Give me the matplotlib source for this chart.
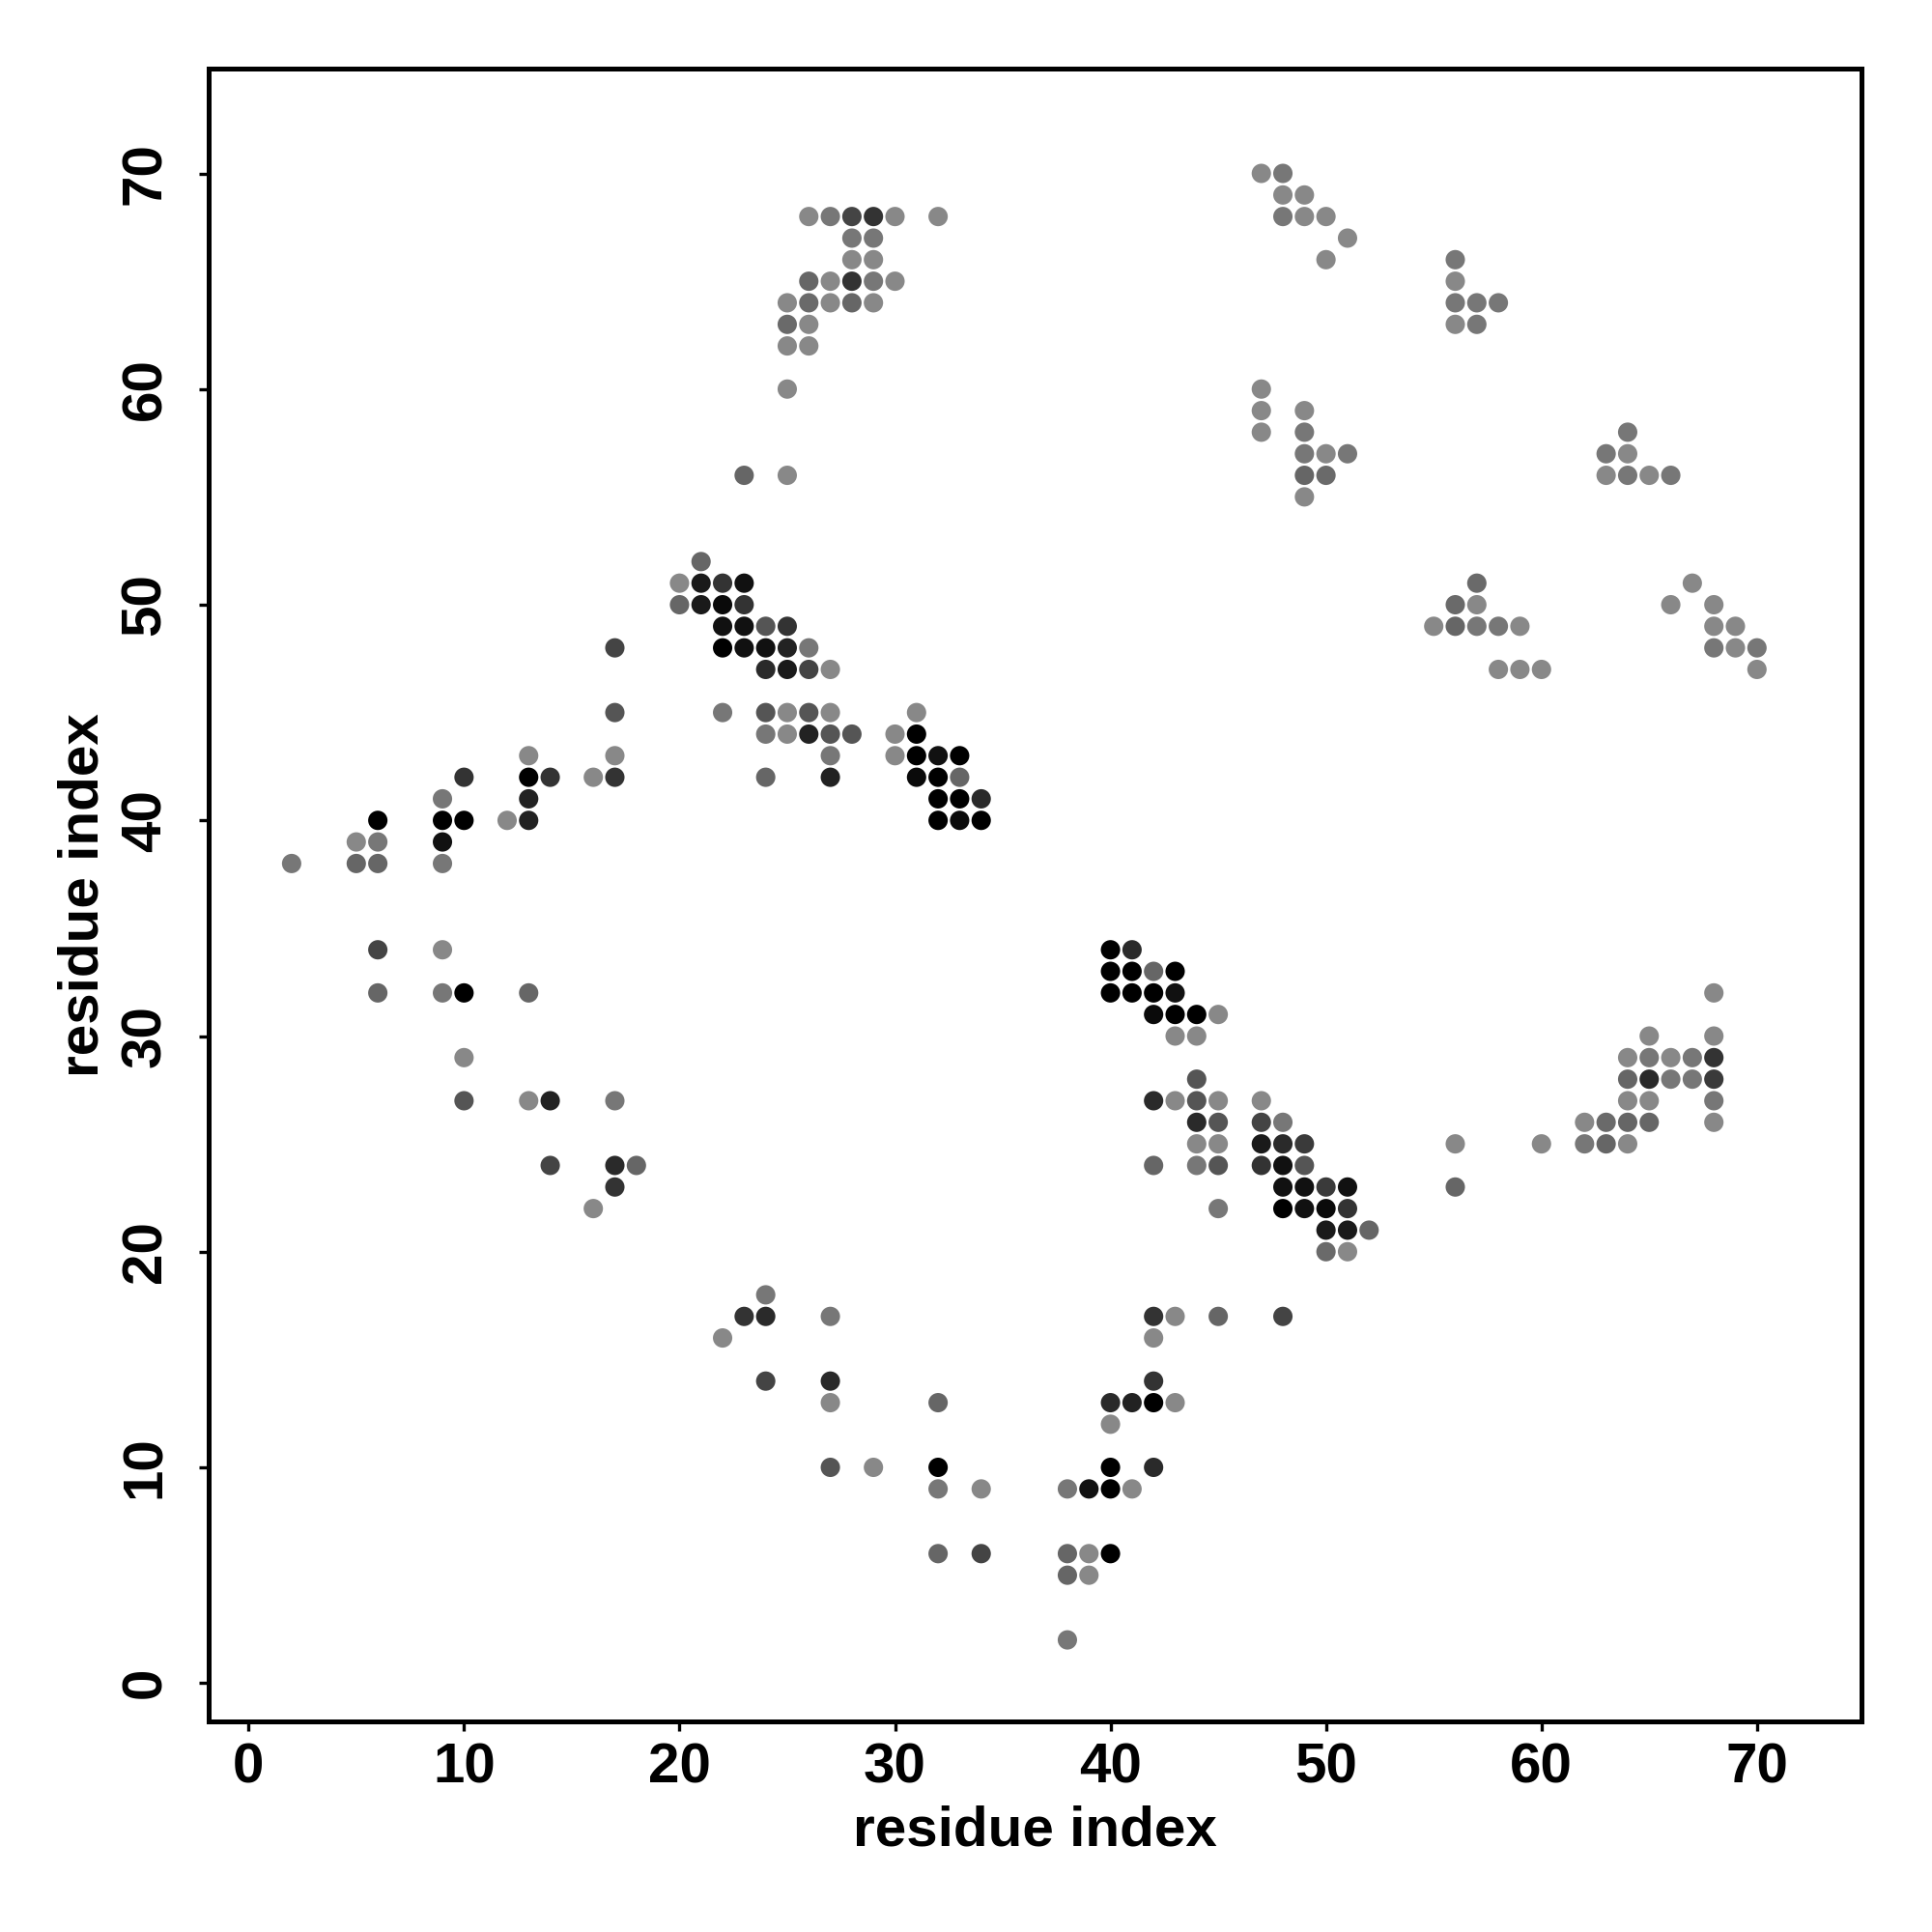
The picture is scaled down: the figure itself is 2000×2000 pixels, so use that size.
import numpy as np
import matplotlib.pyplot as plt

plt.rcParams['font.family'] = ['Liberation Sans', 'DejaVu Sans']
plt.rcParams['font.weight'] = 'bold'

# contact map: residue i, residue j, grey level of the dot (0 = black, 136 = light grey)
res_i = [
    2, 5, 6, 5, 6, 6, 9, 9, 10, 9, 9, 10, 12, 13, 13, 14, 13, 13, 16, 17, 17, 17, 17,
    6, 9, 6, 9, 10, 13, 10, 10, 13, 14, 17, 14, 17, 18, 17, 16,
    21, 20, 21, 22, 23, 20, 21, 22, 23, 22, 23, 24, 25, 22, 23, 24, 25, 26, 24, 25, 26, 27,
    22, 24, 25, 26, 27, 31, 24, 25, 26, 27, 28, 30, 31, 27, 30, 31, 32, 33,
    24, 27, 31, 32, 33, 32, 33, 34, 32, 33, 34,
    26, 27, 28, 29, 30, 32, 28, 29, 28, 29, 26, 27, 28, 29, 30, 25, 26, 27, 28, 29,
    25, 26, 25, 26, 25, 23, 25,
    24, 23, 24, 27, 22, 24, 27, 27, 32, 27, 29, 32, 32,
    42, 43, 45, 42, 42, 40, 41, 42, 43, 40, 34, 40, 42, 38, 39, 40, 41,
    32, 34, 38, 39, 40, 38, 39, 38,
    40, 41, 40, 41, 42, 43, 40, 41, 42, 43, 42, 43, 44, 45, 43, 44, 44,
    42, 43, 44, 45, 47, 44, 45, 47, 48, 44, 45, 47, 48, 49,
    42, 44, 45, 47, 48, 49, 48, 49, 50, 51, 45, 48, 49, 50, 51, 50, 51, 52, 50, 51, 48,
    68, 65, 68, 64, 65, 66, 67, 68, 64, 65, 66, 67, 68, 64, 65, 68,
    62, 63, 64, 65, 68, 56, 60, 62, 63, 64, 56,
    47, 48, 48, 49, 48, 49, 50, 51, 50, 56, 56, 56, 57, 58, 56, 57,
    47, 47, 49, 47, 49, 49, 50, 51, 49, 50, 49,
    64, 63, 64, 63, 64, 65, 66, 57, 56, 57, 55, 56, 57, 58, 59, 58, 59, 60,
    67, 66, 68, 68, 69, 68, 69, 70, 70,
]
res_j = [
    38, 39, 39, 38, 38, 40, 41, 40, 40, 39, 38, 42, 40, 43, 42, 42, 41, 40, 42, 42, 43, 45, 48,
    34, 34, 32, 32, 32, 32, 29, 27, 27, 27, 27, 24, 24, 24, 23, 22,
    52, 51, 51, 51, 51, 50, 50, 50, 50, 49, 49, 49, 49, 48, 48, 48, 48, 48, 47, 47, 47, 47,
    45, 45, 45, 45, 45, 45, 44, 44, 44, 44, 44, 44, 44, 43, 43, 43, 43, 43,
    42, 42, 42, 42, 42, 41, 41, 41, 40, 40, 40,
    68, 68, 68, 68, 68, 68, 67, 67, 66, 66, 65, 65, 65, 65, 65, 64, 64, 64, 64, 64,
    63, 63, 62, 62, 60, 56, 56,
    18, 17, 17, 17, 16, 14, 14, 13, 13, 10, 10, 10, 9,
    17, 17, 17, 16, 14, 13, 13, 13, 13, 12, 9, 10, 10, 9, 9, 9, 9,
    6, 6, 6, 6, 6, 5, 5, 2,
    34, 34, 33, 33, 33, 33, 32, 32, 32, 32, 31, 31, 31, 31, 30, 30, 28,
    27, 27, 27, 27, 27, 26, 26, 26, 26, 25, 25, 25, 25, 25,
    24, 24, 24, 24, 24, 24, 23, 23, 23, 23, 22, 22, 22, 22, 22, 21, 21, 21, 20, 20, 17,
    32, 30, 30, 29, 29, 29, 29, 29, 28, 28, 28, 28, 28, 27, 27, 27,
    26, 26, 26, 26, 26, 25, 25, 25, 25, 25, 23,
    70, 70, 69, 69, 68, 68, 68, 67, 66, 66, 65, 64, 64, 64, 63, 63,
    60, 59, 59, 58, 58, 57, 57, 57, 56, 56, 55,
    58, 57, 57, 56, 56, 56, 56, 51, 50, 50, 49, 49, 49, 49, 49, 47, 47, 47,
    51, 50, 50, 49, 49, 48, 48, 48, 47,
]
shade = [
    0x77, 0x88, 0x77, 0x66, 0x66, 0x00, 0x77, 0x00, 0x00, 0x11, 0x77, 0x33, 0x88, 0x88, 0x00, 0x33, 0x22, 0x22, 0x88, 0x33, 0x88, 0x55, 0x44,
    0x44, 0x88, 0x66, 0x77, 0x00, 0x66, 0x88, 0x55, 0x88, 0x22, 0x77, 0x44, 0x2a, 0x66, 0x33, 0x88,
    0x66, 0x88, 0x1a, 0x33, 0x11, 0x66, 0x1a, 0x0a, 0x33, 0x11, 0x11, 0x55, 0x33, 0x00, 0x11, 0x11, 0x22, 0x77, 0x2a, 0x1a, 0x44, 0x88,
    0x77, 0x55, 0x88, 0x55, 0x88, 0x88, 0x77, 0x88, 0x22, 0x55, 0x55, 0x88, 0x00, 0x77, 0x88, 0x00, 0x11, 0x00,
    0x66, 0x22, 0x0a, 0x00, 0x66, 0x00, 0x00, 0x2a, 0x00, 0x0a, 0x00,
    0x88, 0x77, 0x44, 0x33, 0x88, 0x88, 0x77, 0x77, 0x88, 0x88, 0x66, 0x88, 0x33, 0x77, 0x88, 0x88, 0x6a, 0x88, 0x66, 0x88,
    0x6a, 0x88, 0x88, 0x88, 0x88, 0x66, 0x88,
    0x77, 0x33, 0x2a, 0x77, 0x88, 0x44, 0x2a, 0x88, 0x66, 0x55, 0x88, 0x00, 0x77,
    0x33, 0x88, 0x66, 0x88, 0x33, 0x2a, 0x22, 0x00, 0x88, 0x88, 0x88, 0x00, 0x2a, 0x77, 0x11, 0x00, 0x88,
    0x66, 0x44, 0x66, 0x88, 0x00, 0x66, 0x88, 0x77,
    0x00, 0x2a, 0x00, 0x00, 0x66, 0x00, 0x00, 0x00, 0x00, 0x11, 0x0a, 0x00, 0x00, 0x88, 0x88, 0x88, 0x55,
    0x2a, 0x88, 0x55, 0x88, 0x88, 0x2a, 0x55, 0x44, 0x77, 0x88, 0x88, 0x1a, 0x2a, 0x3a,
    0x66, 0x77, 0x55, 0x33, 0x11, 0x55, 0x11, 0x11, 0x3a, 0x11, 0x77, 0x00, 0x11, 0x0a, 0x33, 0x1a, 0x1a, 0x66, 0x6a, 0x88, 0x44,
    0x88, 0x88, 0x88, 0x88, 0x77, 0x88, 0x77, 0x33, 0x66, 0x2a, 0x77, 0x77, 0x3a, 0x88, 0x88, 0x77,
    0x88, 0x6a, 0x66, 0x66, 0x88, 0x88, 0x88, 0x77, 0x66, 0x88, 0x66,
    0x88, 0x77, 0x88, 0x88, 0x77, 0x88, 0x88, 0x88, 0x88, 0x77, 0x88, 0x77, 0x77, 0x77, 0x88, 0x77,
    0x88, 0x88, 0x88, 0x88, 0x77, 0x77, 0x88, 0x77, 0x66, 0x6a, 0x88,
    0x77, 0x77, 0x88, 0x88, 0x77, 0x88, 0x77, 0x6a, 0x6a, 0x88, 0x88, 0x66, 0x77, 0x77, 0x88, 0x88, 0x88, 0x88,
    0x88, 0x88, 0x88, 0x88, 0x88, 0x77, 0x88, 0x77, 0x88,
]

x = np.array(res_i)
y = np.array(res_j)
g = np.array(shade) / 255.0
colors = np.column_stack([g, g, g])

fig = plt.figure(figsize=(10, 10), dpi=200)
ax = fig.add_axes([0.108, 0.109, 0.8555, 0.8555])

ax.scatter(x, y, s=52, c=colors, linewidths=0)

ax.set_xlim(-1.85, 74.85)
ax.set_ylim(-1.78, 74.86)
ax.set_xticks(range(0, 71, 10))
ax.set_yticks(range(0, 71, 10))

for side in ax.spines.values():
    side.set_linewidth(1.8)

ax.tick_params(axis='both', length=3.6, width=1.2, labelsize=21)
ax.tick_params(axis='x', pad=4)
ax.tick_params(axis='y', pad=10)
for lab in ax.get_yticklabels():
    lab.set_rotation(90)
    lab.set_va('center')

ax.set_xlabel('residue index', fontsize=21, fontweight='bold', labelpad=4)
ax.set_ylabel('residue index', fontsize=21, fontweight='bold', labelpad=4)

fig.savefig('out.png', dpi=200)
